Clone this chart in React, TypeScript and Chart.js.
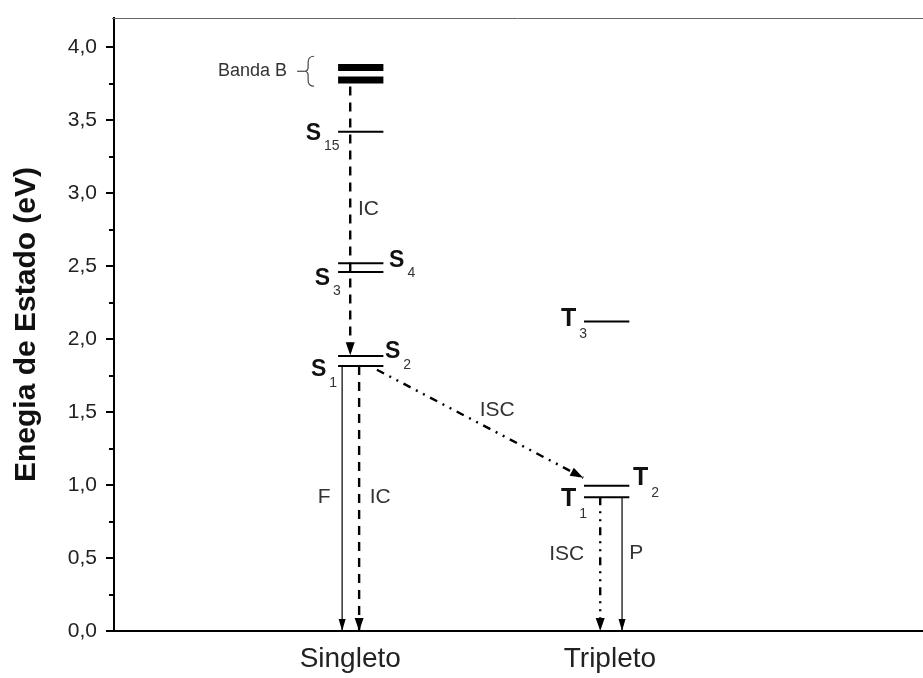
import React, { useEffect, useRef } from "react";
import { Chart, registerables } from "chart.js";

Chart.register(...registerables);

// ---- data ----
const categories = ["Singleto", "Tripleto"];
const categoryX = [2.92, 6.13];
const yTickValues = [0, 0.5, 1, 1.5, 2, 2.5, 3, 3.5, 4];
const yMinorValues = [0.25, 0.75, 1.25, 1.75, 2.25, 2.75, 3.25, 3.75];

const levelNames = ["Banda B 1", "Banda B 2", "S15", "S4", "S3", "S2", "S1", "T3", "T2", "T1"];
const levelEnergy = [3.86, 3.775, 3.42, 2.52, 2.46, 1.885, 1.815, 2.12, 0.995, 0.917];
const levelStart = [2.77, 2.77, 2.77, 2.77, 2.77, 2.77, 2.77, 5.81, 5.81, 5.81];
const levelEnd = [3.33, 3.33, 3.33, 3.33, 3.33, 3.33, 3.33, 6.37, 6.37, 6.37];

const arrowNames = ["IC", "F", "IC", "ISC", "ISC", "P"];
const arrowKind = ["dash", "solid", "dash", "dashdot", "dashdot", "solid"];
const arrowFromX = [2.92, 2.82, 3.03, 3.25, 6.01, 6.28];
const arrowFromY = [3.73, 1.815, 1.815, 1.79, 0.917, 0.917];
const arrowToX = [2.92, 2.82, 3.03, 5.8, 6.01, 6.28];
const arrowToY = [1.89, 0, 0, 1.05, 0, 0];

// state labels: main letter, subscript, anchor (left x, center y)
const stateMain = ["S", "S", "S", "S", "S", "T", "T", "T"];
const stateSub = ["15", "4", "3", "2", "1", "3", "2", "1"];
const stateX = [2.37, 3.4, 2.48, 3.35, 2.435, 5.525, 6.415, 5.525];
const stateY = [3.41, 2.54, 2.415, 1.914, 1.79, 2.134, 1.05, 0.906];

// process labels (left x, center y)
const procText = ["IC", "ISC", "F", "IC", "ISC", "P"];
const procX = [3.016, 4.52, 2.52, 3.16, 5.38, 6.37];
const procY = [2.889, 1.51, 0.92, 0.92, 0.528, 0.535];

const bandLabel = "Banda B";
const bandLabelX = 2.14;
const bandLabelY = 3.835;

const FONT = "Arial, 'Liberation Sans', sans-serif";

const decorPlugin = {
  id: "decor",
  afterDatasetsDraw(chart: any) {
    const { ctx, scales, chartArea } = chart;
    const xs = scales.x;
    const ys = scales.y;
    ctx.save();
    // arrowheads
    arrowNames.forEach((_, i) => {
      const x0 = xs.getPixelForValue(arrowFromX[i]);
      const y0 = ys.getPixelForValue(arrowFromY[i]);
      const x1 = xs.getPixelForValue(arrowToX[i]);
      const y1 = ys.getPixelForValue(arrowToY[i]);
      const ang = Math.atan2(y1 - y0, x1 - x0);
      const len = arrowKind[i] === "solid" ? 12 : 13;
      const hw = arrowKind[i] === "solid" ? 3.5 : 4.5;
      const bx = x1 - len * Math.cos(ang);
      const by = y1 - len * Math.sin(ang);
      const px = -Math.sin(ang);
      const py = Math.cos(ang);
      ctx.beginPath();
      ctx.moveTo(x1, y1);
      ctx.lineTo(bx + hw * px, by + hw * py);
      ctx.lineTo(bx - hw * px, by - hw * py);
      ctx.closePath();
      ctx.fillStyle = "#000";
      ctx.fill();
    });

    // state labels
    ctx.textBaseline = "middle";
    ctx.textAlign = "left";
    stateMain.forEach((m, i) => {
      const x = xs.getPixelForValue(stateX[i]);
      const y = ys.getPixelForValue(stateY[i]);
      const big = m === "T" ? 25 : 23;
      ctx.font = `bold ${big}px ${FONT}`;
      ctx.fillStyle = "#111";
      ctx.fillText(m, x, y);
      const w = ctx.measureText(m).width;
      ctx.font = `14px ${FONT}`;
      ctx.fillStyle = "#333";
      ctx.fillText(stateSub[i], x + w + 3, y + (m === "T" ? 15 : 13));
    });

    // process labels
    ctx.font = `21px ${FONT}`;
    ctx.fillStyle = "#333";
    procText.forEach((t, i) => {
      ctx.fillText(t, xs.getPixelForValue(procX[i]), ys.getPixelForValue(procY[i]));
    });

    // Banda B label + brace
    const bx = xs.getPixelForValue(bandLabelX);
    const by = ys.getPixelForValue(bandLabelY);
    ctx.font = `18px ${FONT}`;
    ctx.textAlign = "right";
    ctx.fillText(bandLabel, bx, by);
    ctx.strokeStyle = "#444";
    ctx.lineWidth = 1.2;
    ctx.beginPath();
    ctx.moveTo(bx + 10, by);
    ctx.lineTo(bx + 17, by);
    ctx.stroke();
    ctx.beginPath();
    const cx = bx + 21;
    ctx.moveTo(cx + 6, by - 15);
    ctx.quadraticCurveTo(cx, by - 15, cx, by - 9);
    ctx.lineTo(cx, by - 4);
    ctx.quadraticCurveTo(cx, by, cx - 4, by);
    ctx.quadraticCurveTo(cx, by, cx, by + 4);
    ctx.lineTo(cx, by + 9);
    ctx.quadraticCurveTo(cx, by + 15, cx + 6, by + 15);
    ctx.stroke();

    // y-axis tick marks
    ctx.strokeStyle = "#000";
    ctx.lineWidth = 2;
    const left = chartArea.left;
    yTickValues.forEach((v) => {
      const y = Math.round(ys.getPixelForValue(v));
      ctx.beginPath();
      ctx.moveTo(left - 8, y);
      ctx.lineTo(left, y);
      ctx.stroke();
    });
    yMinorValues.forEach((v) => {
      const y = Math.round(ys.getPixelForValue(v));
      ctx.beginPath();
      ctx.moveTo(left - 5, y);
      ctx.lineTo(left, y);
      ctx.stroke();
    });

    // top frame line
    ctx.strokeStyle = "#666";
    ctx.lineWidth = 1;
    ctx.beginPath();
    ctx.moveTo(left - 2, chartArea.top + 0.5);
    ctx.lineTo(chartArea.right, chartArea.top + 0.5);
    ctx.stroke();
    ctx.restore();
  },
};

export default function App() {
  const ref = useRef<HTMLCanvasElement | null>(null);

  useEffect(() => {
    document.body.style.margin = "0";
    const canvas = ref.current;
    if (!canvas) return;

    const levelSets = levelNames.map((name, i) => ({
      label: name,
      data: [
        { x: levelStart[i], y: levelEnergy[i] },
        { x: levelEnd[i], y: levelEnergy[i] },
      ],
      showLine: true,
      borderColor: "#000",
      borderWidth: name.startsWith("Banda") ? 7 : 2,
      pointRadius: 0,
      borderCapStyle: "butt",
    }));

    const arrowSets = arrowNames.map((name, i) => {
      const kind = arrowKind[i];
      return {
        label: name,
        data: [
          { x: arrowFromX[i], y: arrowFromY[i] },
          { x: arrowToX[i], y: arrowToY[i] },
        ],
        showLine: true,
        borderColor: "#000",
        borderWidth: kind === "solid" ? 1.2 : 2.4,
        borderDash: kind === "dash" ? [9, 7] : kind === "dashdot" ? [8, 6, 2, 6, 2, 6] : [],
        pointRadius: 0,
        borderCapStyle: "butt",
      };
    });

    const chart = new Chart(canvas, {
      type: "scatter",
      data: { datasets: [...levelSets, ...arrowSets] as any },
      options: {
        responsive: false,
        animation: false,
        layout: { padding: { top: 18, right: 0, left: 0, bottom: 0 } },
        plugins: { legend: { display: false }, tooltip: { enabled: false } },
        scales: {
          x: {
            type: "linear",
            min: 0,
            max: 10,
            afterBuildTicks: (s: any) => {
              s.ticks = categoryX.map((v) => ({ value: v }));
            },
            afterFit: (s: any) => {
              s.height = 47;
              s.paddingLeft = 0;
              s.paddingRight = 0;
            },
            grid: { display: false, drawTicks: false },
            border: { display: true, color: "#000", width: 2 },
            ticks: {
              callback: (_v: any, i: number) => categories[i],
              font: { family: FONT, size: 28 },
              color: "#222",
              padding: 11,
              autoSkip: false,
              maxRotation: 0,
            },
          },
          y: {
            type: "linear",
            min: 0,
            max: 4.2,
            afterBuildTicks: (s: any) => {
              s.ticks = yTickValues.map((v) => ({ value: v }));
            },
            afterFit: (s: any) => {
              s.width = 114;
              s.paddingTop = 0;
              s.paddingBottom = 0;
            },
            grid: { display: false, drawTicks: false },
            border: { display: true, color: "#000", width: 2 },
            ticks: {
              callback: (v: any) => Number(v).toFixed(1).replace(".", ","),
              font: { family: FONT, size: 21 },
              color: "#222",
              padding: 17,
            },
            title: {
              display: true,
              text: "Enegia de Estado (eV)",
              font: { family: FONT, size: 30, weight: "bold" },
              color: "#111",
              padding: { top: 9, bottom: 0 },
            },
          },
        },
      },
      plugins: [decorPlugin],
    });
    return () => chart.destroy();
  }, []);

  return (
    <div style={{ width: 923, height: 678 }}>
      <canvas ref={ref} width={923} height={678} style={{ display: "block" }} />
    </div>
  );
}
